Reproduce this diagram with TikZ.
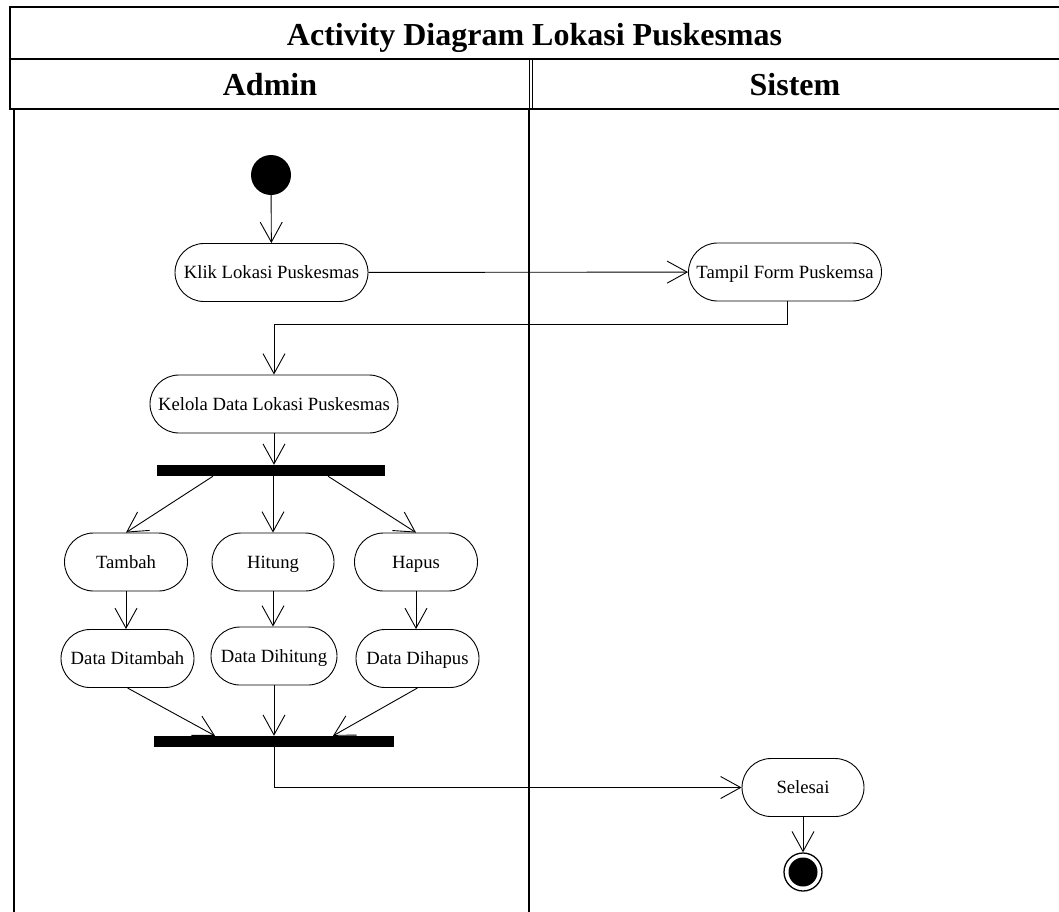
\documentclass[tikz,border=0pt]{standalone}
\usepackage{fontspec}
\setmainfont{Liberation Serif}
\usetikzlibrary{arrows.meta,calc}
\begin{document}
\begin{tikzpicture}[x=1pt,y=-1pt,
  act/.style={draw, line width=0.9pt, rounded corners=29pt, minimum height=58pt,
    inner sep=0pt, text height=12.5pt, text depth=0pt,
    font=\fontsize{18.67}{22}\selectfont},
  syncbar/.style={fill=black, inner sep=0pt, minimum height=11pt},
  flow/.style={line width=0.9pt, -{Straight Barb[length=20pt,width=22pt]}},
  headtext/.style={anchor=base, font=\fontsize{32}{38}\bfseries\selectfont},
  frame/.style={line width=1.3pt},
  lane/.style={line width=1.8pt}
]
\useasboundingbox (0,0) rectangle (1059,911);

% title and lane headers
\draw[frame] (1064,7) -- (10,7) -- (10,109) -- (1064,109);
\draw[line width=1.8pt] (10,59) -- (1064,59);
\draw[line width=1pt] (529,59) -- (529,109) (532.5,59) -- (532.5,109);
\node[headtext] (title) at (534.5,45) {Activity Diagram Lokasi Puskesmas};
\node[headtext] (admin) at (270,95) {Admin};
\node[headtext] (sistem) at (795,95) {Sistem};

% swimlane borders
\draw[lane] (14,109) -- (14,915);
\draw[lane] (529,109) -- (529,915);

% activities
\node[circle, fill=black, minimum size=40pt, inner sep=0pt] (start) at (271,175) {};
\node[act, minimum width=193pt] (klik) at (271.5,272.5) {Klik Lokasi Puskesmas};
\node[act, minimum width=193pt] (tampil) at (785,272) {Tampil Form Puskemsa};
\node[act, minimum width=248pt] (kelola) at (274,404) {Kelola Data Lokasi Puskesmas};
\node[syncbar, minimum width=228pt] (fork) at (271,470.5) {};
\node[act, minimum width=123pt] (tambah) at (126,562) {Tambah};
\node[act, minimum width=122pt] (hitung) at (273,562) {Hitung};
\node[act, minimum width=123pt] (hapus) at (416,562) {Hapus};
\node[act, minimum width=133pt] (dtambah) at (127.5,658.5) {Data Ditambah};
\node[act, minimum width=126pt] (dhitung) at (274,656) {Data Dihitung};
\node[act, minimum width=123pt] (dhapus) at (417.5,658.5) {Data Dihapus};
\node[syncbar, minimum width=240pt] (join) at (274,741.5) {};
\node[act, minimum width=122pt] (selesai) at (803,787.5) {Selesai};
\node[circle, draw, line width=1.3pt, minimum size=38pt, inner sep=0pt] (stop) at (803,872) {};
\node[circle, fill=black, minimum size=29pt, inner sep=0pt] (stopcore) at (stop) {};

% transitions
\coordinate (back) at (787,324);
\draw[flow] (start) -- (klik);
\draw[flow] (klik) -- (tampil);
\draw[flow] (tampil.south -| back) -- (back) -| (kelola.north);
\draw[flow] (kelola.south) -- (kelola.south |- fork.north);
\draw[flow] ([xshift=-58pt]fork.south) -- (tambah.north);
\draw[flow] (fork.south -| hitung.north) -- (hitung.north);
\draw[flow] ([xshift=57pt]fork.south) -- (hapus.north);
\draw[flow] (tambah.south) -- (tambah.south |- dtambah.north);
\draw[flow] (hitung.south) -- (hitung.south |- dhitung.north);
\draw[flow] (hapus.south) -- (hapus.south |- dhapus.north);
\draw[flow] (dtambah.south) -- ([xshift=-59pt]join.north);
\draw[flow] (dhitung.south) -- (dhitung.south |- join.north);
\draw[flow] (dhapus.south) -- ([xshift=59pt]join.north);
\draw[flow] (join.south) |- (selesai.west);
\draw[flow] (selesai.south) -- (stop.north);
\end{tikzpicture}
\end{document}
